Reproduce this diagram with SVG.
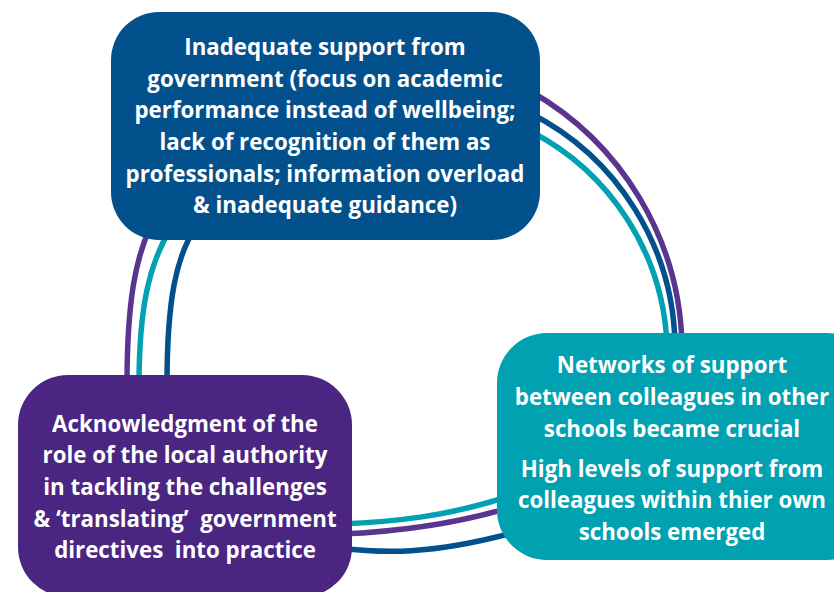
<svg xmlns="http://www.w3.org/2000/svg" width="834" height="592" viewBox="0 0 834 592">
  <style>
    .link { fill: none; stroke-width: 5.5; stroke-linecap: butt; }
    .purple { stroke: #5a3590; }
    .blue { stroke: #02508c; }
    .teal { stroke: #00a1b1; }
    .label { font-family: "Open Sans", "Noto Sans", "Liberation Sans", sans-serif; font-weight: 700; font-size: 22.3px; fill: #ffffff; text-anchor: middle; }
  </style>
  <rect width="834" height="592" fill="#ffffff"/>

  <!-- connectors: three parallel strands between each pair of boxes -->
  <g id="connectors">
    <!-- top box to right box -->
    <path class="link purple" d="M530,91 A300,300 0 0 1 682,345"/>
    <path class="link blue" d="M530,113 A265,265 0 0 1 675,345"/>
    <path class="link teal" d="M530,131 A252,252 0 0 1 667,345"/>
    <!-- top box to left box -->
    <path class="link purple" d="M150,228 C136,258 127,300 127,385"/>
    <path class="link teal" d="M171,228 C150,262 139,305 139,385"/>
    <path class="link blue" d="M195,228 C176,258 167,300 167,385"/>
    <!-- left box to right box -->
    <path class="link teal" d="M340,524 C390,522 450,517 515,494"/>
    <path class="link purple" d="M340,534 C390,532 450,526 515,506"/>
    <path class="link blue" d="M340,548 C380,553 430,556 520,531"/>
  </g>

  <g id="node-government">
    <rect x="111" y="12" width="429" height="228" rx="48" ry="48" fill="#02508c"/>
    <text class="label" x="325" y="55">Inadequate support from</text>
    <text class="label" x="325" y="87">government (focus on academic</text>
    <text class="label" x="325" y="118">performance instead of wellbeing;</text>
    <text class="label" x="325" y="150">lack of recognition of them as</text>
    <text class="label" x="325" y="182">professionals; information overload</text>
    <text class="label" x="325" y="213">&amp; inadequate guidance)</text>
  </g>

  <g id="node-colleagues">
    <rect x="497" y="333" width="380" height="227" rx="50" ry="50" fill="#00a1b1"/>
    <text class="label" x="672" y="373">Networks of support</text>
    <text class="label" x="672" y="405">between colleagues in other</text>
    <text class="label" x="672" y="437">schools became crucial</text>
    <text class="label" x="672" y="477">High levels of support from</text>
    <text class="label" x="672" y="508">colleagues within thier own</text>
    <text class="label" x="672" y="540">schools emerged</text>
  </g>

  <g id="node-local-authority">
    <rect x="18" y="375" width="334" height="222" rx="50" ry="50" fill="#4a2682"/>
    <text class="label" x="185" y="432">Acknowledgment of the</text>
    <text class="label" x="185" y="463">role of the local authority</text>
    <text class="label" x="185" y="495">in tackling the challenges</text>
    <text class="label" x="185" y="527" xml:space="preserve">&amp; ‘translating’  government</text>
    <text class="label" x="185" y="558" xml:space="preserve">directives  into practice</text>
  </g>
</svg>
